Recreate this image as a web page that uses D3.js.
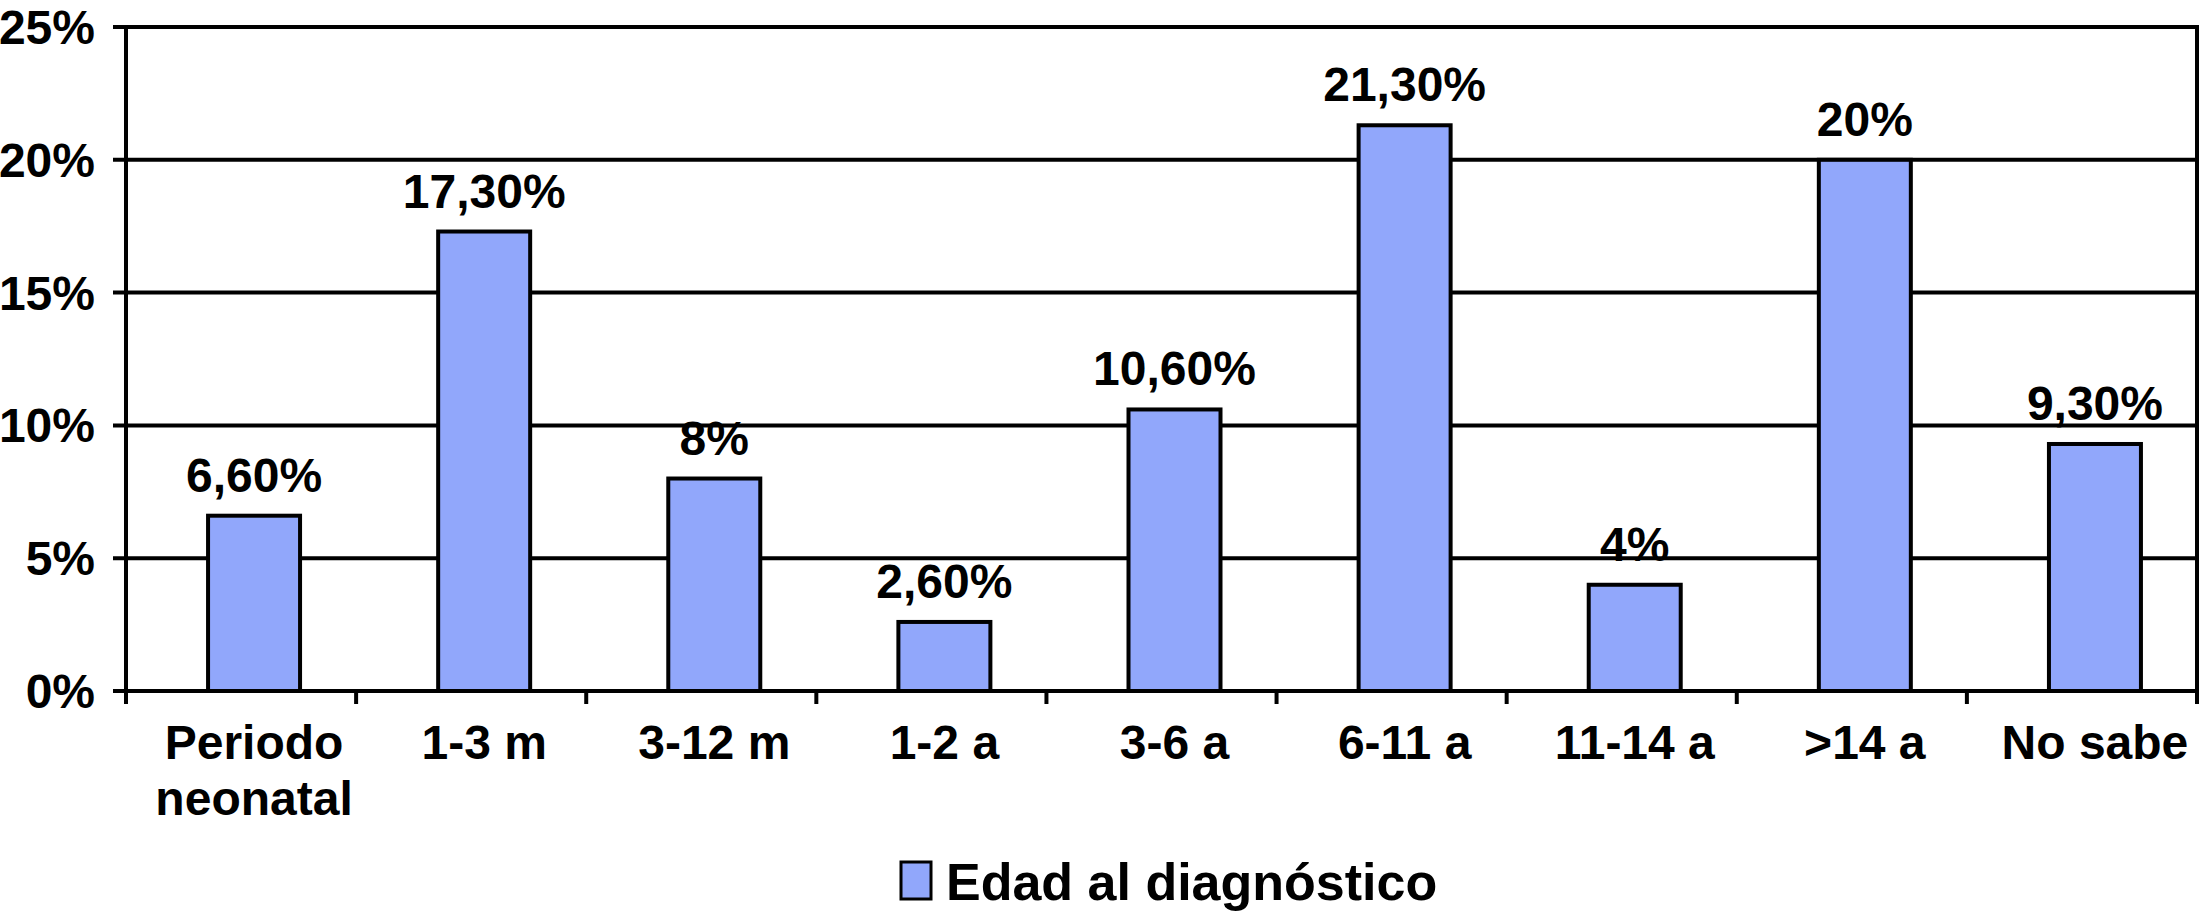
<!DOCTYPE html>
<html>
<head>
<meta charset="utf-8">
<script src="https://cdn.jsdelivr.net/npm/d3@7"></script>
<style>
  body { margin: 0; background: #fff; }
  text { font-family: "Liberation Sans", Arial, sans-serif; font-weight: bold; fill: #000; }
</style>
</head>
<body>
<div id="chart"></div>
<script>
// data
const categories = ['Periodo neonatal', '1-3 m', '3-12 m', '1-2 a', '3-6 a', '6-11 a', '11-14 a', '>14 a', 'No sabe'];
const values = [6.6, 17.3, 8, 2.6, 10.6, 21.3, 4, 20, 9.3];
const valueLabels = ['6,60%', '17,30%', '8%', '2,60%', '10,60%', '21,30%', '4%', '20%', '9,30%'];
const yTicks = [0, 5, 10, 15, 20, 25];
const seriesName = 'Edad al diagnóstico';

const width = 2201;
const height = 912;
const plotLeft = 126, plotRight = 2197, plotTop = 27, plotBottom = 691;
const barShift = 13; // bars sit a little right of their band centre in the original

const svg = d3.select('#chart')
    .append('svg')
    .attr('width', width)
    .attr('height', height);

const x = d3.scaleBand()
    .domain(categories)
    .range([plotLeft, plotRight]);

const y = d3.scaleLinear()
    .domain([0, 25])
    .range([plotBottom, plotTop]);

const barW = 92;

// gridlines + y ticks
svg.append('g')
    .selectAll('line')
    .data(yTicks)
    .enter().append('line')
    .attr('x1', plotLeft - 13)
    .attr('x2', plotRight)
    .attr('y1', d => y(d))
    .attr('y2', d => y(d))
    .attr('stroke', '#000')
    .attr('stroke-width', 4);

svg.append('g')
    .selectAll('text')
    .data(yTicks)
    .enter().append('text')
    .attr('x', 95)
    .attr('y', d => y(d) + 17)
    .attr('text-anchor', 'end')
    .attr('font-size', 48)
    .text(d => d + '%');

// bars
svg.append('g')
    .selectAll('rect')
    .data(values)
    .enter().append('rect')
    .attr('x', (d, i) => x(categories[i]) + (x.bandwidth() - barW) / 2 + barShift)
    .attr('y', d => y(d))
    .attr('width', barW)
    .attr('height', d => y(0) - y(d))
    .attr('fill', '#91a7fb')
    .attr('stroke', '#000')
    .attr('stroke-width', 4);

// value labels
svg.append('g')
    .selectAll('text')
    .data(values)
    .enter().append('text')
    .attr('x', (d, i) => x(categories[i]) + x.bandwidth() / 2 + barShift)
    .attr('y', d => y(d) - 24)
    .attr('text-anchor', 'middle')
    .attr('font-size', 48)
    .text((d, i) => valueLabels[i]);

// axis lines
svg.append('line')
    .attr('x1', plotLeft).attr('x2', plotLeft)
    .attr('y1', plotTop - 2).attr('y2', plotBottom + 13)
    .attr('stroke', '#000').attr('stroke-width', 4);
svg.append('line')
    .attr('x1', plotRight).attr('x2', plotRight)
    .attr('y1', plotTop - 2).attr('y2', plotBottom + 13)
    .attr('stroke', '#000').attr('stroke-width', 4);

// x ticks at band edges
const edges = categories.map(c => x(c)).slice(1);
svg.append('g')
    .selectAll('line')
    .data(edges)
    .enter().append('line')
    .attr('x1', d => d).attr('x2', d => d)
    .attr('y1', plotBottom).attr('y2', plotBottom + 13)
    .attr('stroke', '#000').attr('stroke-width', 4);

// category labels (the long one wraps)
const catLabel = svg.append('g')
    .selectAll('text')
    .data(categories)
    .enter().append('text')
    .attr('x', d => x(d) + x.bandwidth() / 2 + barShift)
    .attr('y', 759)
    .attr('text-anchor', 'middle')
    .attr('font-size', 48);

catLabel.each(function (d) {
    const words = d === 'Periodo neonatal' ? ['Periodo', 'neonatal'] : [d];
    const t = d3.select(this);
    words.forEach((w, i) => {
        t.append('tspan')
            .attr('x', t.attr('x'))
            .attr('dy', i === 0 ? 0 : 56)
            .text(w);
    });
});

// legend
const legend = svg.append('g');
legend.append('rect')
    .attr('x', 901).attr('y', 862)
    .attr('width', 30).attr('height', 37)
    .attr('fill', '#91a7fb')
    .attr('stroke', '#000').attr('stroke-width', 3);
legend.append('text')
    .attr('x', 946).attr('y', 900)
    .attr('font-size', 52)
    .text(seriesName);
</script>
</body>
</html>
